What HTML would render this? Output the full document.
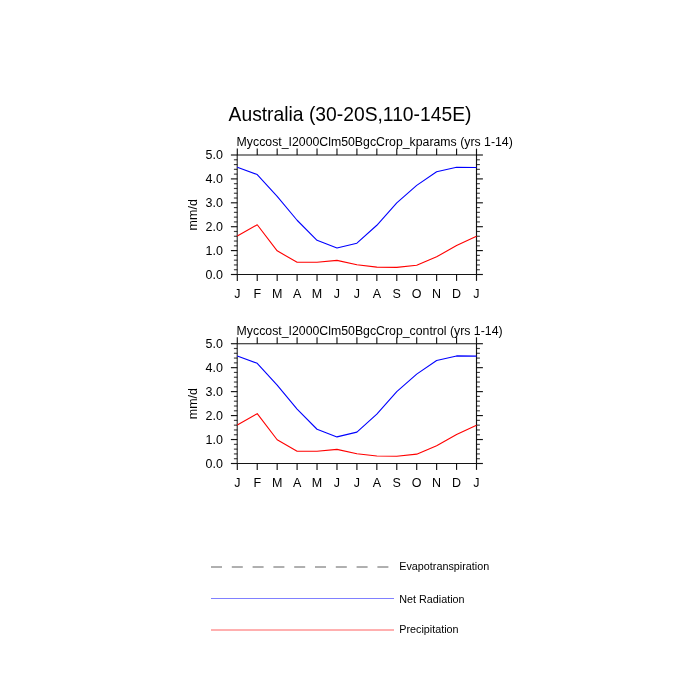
<!DOCTYPE html>
<html><head><meta charset="utf-8">
<style>
html,body{margin:0;padding:0;background:#fff;}
svg{display:block;will-change:transform;}
text{font-family:"Liberation Sans", sans-serif;fill:#000;}
</style></head><body>
<svg width="700" height="700" viewBox="0 0 700 700">
<rect width="700" height="700" fill="#fff"/>
<text x="350" y="120.7" text-anchor="middle" font-size="20.2" textLength="242.9" lengthAdjust="spacingAndGlyphs">Australia (30-20S,110-145E)</text>
<line x1="237.30" y1="155.00" x2="476.50" y2="155.00" stroke="#000" stroke-opacity="0.92" stroke-width="1.15"/>
<line x1="237.30" y1="274.50" x2="476.50" y2="274.50" stroke="#000" stroke-opacity="0.92" stroke-width="1.15"/>
<line x1="237.20" y1="155.00" x2="237.20" y2="274.50" stroke="#000" stroke-opacity="0.95" stroke-width="1.00"/>
<line x1="476.50" y1="155.00" x2="476.50" y2="274.50" stroke="#000" stroke-opacity="0.92" stroke-width="1.15"/>
<line x1="237.30" y1="148.60" x2="237.30" y2="155.00" stroke="#000" stroke-opacity="0.92" stroke-width="1.15"/>
<line x1="237.30" y1="274.50" x2="237.30" y2="280.90" stroke="#000" stroke-opacity="0.92" stroke-width="1.15"/>
<text transform="translate(237.30,297.60) scale(0.9550,1)" font-size="13.10" text-anchor="middle">J</text>
<line x1="257.23" y1="148.60" x2="257.23" y2="155.00" stroke="#000" stroke-opacity="0.92" stroke-width="1.15"/>
<line x1="257.23" y1="274.50" x2="257.23" y2="280.90" stroke="#000" stroke-opacity="0.92" stroke-width="1.15"/>
<text transform="translate(257.23,297.60) scale(0.9550,1)" font-size="13.10" text-anchor="middle">F</text>
<line x1="277.17" y1="148.60" x2="277.17" y2="155.00" stroke="#000" stroke-opacity="0.92" stroke-width="1.15"/>
<line x1="277.17" y1="274.50" x2="277.17" y2="280.90" stroke="#000" stroke-opacity="0.92" stroke-width="1.15"/>
<text transform="translate(277.17,297.60) scale(0.9550,1)" font-size="13.10" text-anchor="middle">M</text>
<line x1="297.10" y1="148.60" x2="297.10" y2="155.00" stroke="#000" stroke-opacity="0.92" stroke-width="1.15"/>
<line x1="297.10" y1="274.50" x2="297.10" y2="280.90" stroke="#000" stroke-opacity="0.92" stroke-width="1.15"/>
<text transform="translate(297.10,297.60) scale(0.9550,1)" font-size="13.10" text-anchor="middle">A</text>
<line x1="317.03" y1="148.60" x2="317.03" y2="155.00" stroke="#000" stroke-opacity="0.92" stroke-width="1.15"/>
<line x1="317.03" y1="274.50" x2="317.03" y2="280.90" stroke="#000" stroke-opacity="0.92" stroke-width="1.15"/>
<text transform="translate(317.03,297.60) scale(0.9550,1)" font-size="13.10" text-anchor="middle">M</text>
<line x1="336.97" y1="148.60" x2="336.97" y2="155.00" stroke="#000" stroke-opacity="0.92" stroke-width="1.15"/>
<line x1="336.97" y1="274.50" x2="336.97" y2="280.90" stroke="#000" stroke-opacity="0.92" stroke-width="1.15"/>
<text transform="translate(336.97,297.60) scale(0.9550,1)" font-size="13.10" text-anchor="middle">J</text>
<line x1="356.90" y1="148.60" x2="356.90" y2="155.00" stroke="#000" stroke-opacity="0.92" stroke-width="1.15"/>
<line x1="356.90" y1="274.50" x2="356.90" y2="280.90" stroke="#000" stroke-opacity="0.92" stroke-width="1.15"/>
<text transform="translate(356.90,297.60) scale(0.9550,1)" font-size="13.10" text-anchor="middle">J</text>
<line x1="376.83" y1="148.60" x2="376.83" y2="155.00" stroke="#000" stroke-opacity="0.92" stroke-width="1.15"/>
<line x1="376.83" y1="274.50" x2="376.83" y2="280.90" stroke="#000" stroke-opacity="0.92" stroke-width="1.15"/>
<text transform="translate(376.83,297.60) scale(0.9550,1)" font-size="13.10" text-anchor="middle">A</text>
<line x1="396.77" y1="148.60" x2="396.77" y2="155.00" stroke="#000" stroke-opacity="0.92" stroke-width="1.15"/>
<line x1="396.77" y1="274.50" x2="396.77" y2="280.90" stroke="#000" stroke-opacity="0.92" stroke-width="1.15"/>
<text transform="translate(396.77,297.60) scale(0.9550,1)" font-size="13.10" text-anchor="middle">S</text>
<line x1="416.70" y1="148.60" x2="416.70" y2="155.00" stroke="#000" stroke-opacity="0.92" stroke-width="1.15"/>
<line x1="416.70" y1="274.50" x2="416.70" y2="280.90" stroke="#000" stroke-opacity="0.92" stroke-width="1.15"/>
<text transform="translate(416.70,297.60) scale(0.9550,1)" font-size="13.10" text-anchor="middle">O</text>
<line x1="436.63" y1="148.60" x2="436.63" y2="155.00" stroke="#000" stroke-opacity="0.92" stroke-width="1.15"/>
<line x1="436.63" y1="274.50" x2="436.63" y2="280.90" stroke="#000" stroke-opacity="0.92" stroke-width="1.15"/>
<text transform="translate(436.63,297.60) scale(0.9550,1)" font-size="13.10" text-anchor="middle">N</text>
<line x1="456.57" y1="148.60" x2="456.57" y2="155.00" stroke="#000" stroke-opacity="0.92" stroke-width="1.15"/>
<line x1="456.57" y1="274.50" x2="456.57" y2="280.90" stroke="#000" stroke-opacity="0.92" stroke-width="1.15"/>
<text transform="translate(456.57,297.60) scale(0.9550,1)" font-size="13.10" text-anchor="middle">D</text>
<line x1="476.50" y1="148.60" x2="476.50" y2="155.00" stroke="#000" stroke-opacity="0.92" stroke-width="1.15"/>
<line x1="476.50" y1="274.50" x2="476.50" y2="280.90" stroke="#000" stroke-opacity="0.92" stroke-width="1.15"/>
<text transform="translate(476.50,297.60) scale(0.9550,1)" font-size="13.10" text-anchor="middle">J</text>
<line x1="230.90" y1="274.50" x2="237.30" y2="274.50" stroke="#000" stroke-opacity="0.92" stroke-width="1.15"/>
<line x1="476.50" y1="274.50" x2="482.90" y2="274.50" stroke="#000" stroke-opacity="0.92" stroke-width="1.15"/>
<text transform="translate(223.00,278.50) scale(0.9550,1)" font-size="13.10" text-anchor="end">0.0</text>
<line x1="233.90" y1="269.72" x2="237.30" y2="269.72" stroke="#000" stroke-opacity="0.75" stroke-width="1.15"/>
<line x1="476.50" y1="269.72" x2="479.90" y2="269.72" stroke="#000" stroke-opacity="0.75" stroke-width="1.15"/>
<line x1="233.90" y1="264.94" x2="237.30" y2="264.94" stroke="#000" stroke-opacity="0.75" stroke-width="1.15"/>
<line x1="476.50" y1="264.94" x2="479.90" y2="264.94" stroke="#000" stroke-opacity="0.75" stroke-width="1.15"/>
<line x1="233.90" y1="260.16" x2="237.30" y2="260.16" stroke="#000" stroke-opacity="0.75" stroke-width="1.15"/>
<line x1="476.50" y1="260.16" x2="479.90" y2="260.16" stroke="#000" stroke-opacity="0.75" stroke-width="1.15"/>
<line x1="233.90" y1="255.38" x2="237.30" y2="255.38" stroke="#000" stroke-opacity="0.75" stroke-width="1.15"/>
<line x1="476.50" y1="255.38" x2="479.90" y2="255.38" stroke="#000" stroke-opacity="0.75" stroke-width="1.15"/>
<line x1="230.90" y1="250.60" x2="237.30" y2="250.60" stroke="#000" stroke-opacity="0.92" stroke-width="1.15"/>
<line x1="476.50" y1="250.60" x2="482.90" y2="250.60" stroke="#000" stroke-opacity="0.92" stroke-width="1.15"/>
<text transform="translate(223.00,254.60) scale(0.9550,1)" font-size="13.10" text-anchor="end">1.0</text>
<line x1="233.90" y1="245.82" x2="237.30" y2="245.82" stroke="#000" stroke-opacity="0.75" stroke-width="1.15"/>
<line x1="476.50" y1="245.82" x2="479.90" y2="245.82" stroke="#000" stroke-opacity="0.75" stroke-width="1.15"/>
<line x1="233.90" y1="241.04" x2="237.30" y2="241.04" stroke="#000" stroke-opacity="0.75" stroke-width="1.15"/>
<line x1="476.50" y1="241.04" x2="479.90" y2="241.04" stroke="#000" stroke-opacity="0.75" stroke-width="1.15"/>
<line x1="233.90" y1="236.26" x2="237.30" y2="236.26" stroke="#000" stroke-opacity="0.75" stroke-width="1.15"/>
<line x1="476.50" y1="236.26" x2="479.90" y2="236.26" stroke="#000" stroke-opacity="0.75" stroke-width="1.15"/>
<line x1="233.90" y1="231.48" x2="237.30" y2="231.48" stroke="#000" stroke-opacity="0.75" stroke-width="1.15"/>
<line x1="476.50" y1="231.48" x2="479.90" y2="231.48" stroke="#000" stroke-opacity="0.75" stroke-width="1.15"/>
<line x1="230.90" y1="226.70" x2="237.30" y2="226.70" stroke="#000" stroke-opacity="0.92" stroke-width="1.15"/>
<line x1="476.50" y1="226.70" x2="482.90" y2="226.70" stroke="#000" stroke-opacity="0.92" stroke-width="1.15"/>
<text transform="translate(223.00,230.70) scale(0.9550,1)" font-size="13.10" text-anchor="end">2.0</text>
<line x1="233.90" y1="221.92" x2="237.30" y2="221.92" stroke="#000" stroke-opacity="0.75" stroke-width="1.15"/>
<line x1="476.50" y1="221.92" x2="479.90" y2="221.92" stroke="#000" stroke-opacity="0.75" stroke-width="1.15"/>
<line x1="233.90" y1="217.14" x2="237.30" y2="217.14" stroke="#000" stroke-opacity="0.75" stroke-width="1.15"/>
<line x1="476.50" y1="217.14" x2="479.90" y2="217.14" stroke="#000" stroke-opacity="0.75" stroke-width="1.15"/>
<line x1="233.90" y1="212.36" x2="237.30" y2="212.36" stroke="#000" stroke-opacity="0.75" stroke-width="1.15"/>
<line x1="476.50" y1="212.36" x2="479.90" y2="212.36" stroke="#000" stroke-opacity="0.75" stroke-width="1.15"/>
<line x1="233.90" y1="207.58" x2="237.30" y2="207.58" stroke="#000" stroke-opacity="0.75" stroke-width="1.15"/>
<line x1="476.50" y1="207.58" x2="479.90" y2="207.58" stroke="#000" stroke-opacity="0.75" stroke-width="1.15"/>
<line x1="230.90" y1="202.80" x2="237.30" y2="202.80" stroke="#000" stroke-opacity="0.92" stroke-width="1.15"/>
<line x1="476.50" y1="202.80" x2="482.90" y2="202.80" stroke="#000" stroke-opacity="0.92" stroke-width="1.15"/>
<text transform="translate(223.00,206.80) scale(0.9550,1)" font-size="13.10" text-anchor="end">3.0</text>
<line x1="233.90" y1="198.02" x2="237.30" y2="198.02" stroke="#000" stroke-opacity="0.75" stroke-width="1.15"/>
<line x1="476.50" y1="198.02" x2="479.90" y2="198.02" stroke="#000" stroke-opacity="0.75" stroke-width="1.15"/>
<line x1="233.90" y1="193.24" x2="237.30" y2="193.24" stroke="#000" stroke-opacity="0.75" stroke-width="1.15"/>
<line x1="476.50" y1="193.24" x2="479.90" y2="193.24" stroke="#000" stroke-opacity="0.75" stroke-width="1.15"/>
<line x1="233.90" y1="188.46" x2="237.30" y2="188.46" stroke="#000" stroke-opacity="0.75" stroke-width="1.15"/>
<line x1="476.50" y1="188.46" x2="479.90" y2="188.46" stroke="#000" stroke-opacity="0.75" stroke-width="1.15"/>
<line x1="233.90" y1="183.68" x2="237.30" y2="183.68" stroke="#000" stroke-opacity="0.75" stroke-width="1.15"/>
<line x1="476.50" y1="183.68" x2="479.90" y2="183.68" stroke="#000" stroke-opacity="0.75" stroke-width="1.15"/>
<line x1="230.90" y1="178.90" x2="237.30" y2="178.90" stroke="#000" stroke-opacity="0.92" stroke-width="1.15"/>
<line x1="476.50" y1="178.90" x2="482.90" y2="178.90" stroke="#000" stroke-opacity="0.92" stroke-width="1.15"/>
<text transform="translate(223.00,182.90) scale(0.9550,1)" font-size="13.10" text-anchor="end">4.0</text>
<line x1="233.90" y1="174.12" x2="237.30" y2="174.12" stroke="#000" stroke-opacity="0.75" stroke-width="1.15"/>
<line x1="476.50" y1="174.12" x2="479.90" y2="174.12" stroke="#000" stroke-opacity="0.75" stroke-width="1.15"/>
<line x1="233.90" y1="169.34" x2="237.30" y2="169.34" stroke="#000" stroke-opacity="0.75" stroke-width="1.15"/>
<line x1="476.50" y1="169.34" x2="479.90" y2="169.34" stroke="#000" stroke-opacity="0.75" stroke-width="1.15"/>
<line x1="233.90" y1="164.56" x2="237.30" y2="164.56" stroke="#000" stroke-opacity="0.75" stroke-width="1.15"/>
<line x1="476.50" y1="164.56" x2="479.90" y2="164.56" stroke="#000" stroke-opacity="0.75" stroke-width="1.15"/>
<line x1="233.90" y1="159.78" x2="237.30" y2="159.78" stroke="#000" stroke-opacity="0.75" stroke-width="1.15"/>
<line x1="476.50" y1="159.78" x2="479.90" y2="159.78" stroke="#000" stroke-opacity="0.75" stroke-width="1.15"/>
<line x1="230.90" y1="155.00" x2="237.30" y2="155.00" stroke="#000" stroke-opacity="0.92" stroke-width="1.15"/>
<line x1="476.50" y1="155.00" x2="482.90" y2="155.00" stroke="#000" stroke-opacity="0.92" stroke-width="1.15"/>
<text transform="translate(223.00,159.00) scale(0.9550,1)" font-size="13.10" text-anchor="end">5.0</text>
<polyline points="237.30,167.19 257.23,174.60 277.17,196.35 297.10,220.25 317.03,240.32 336.97,247.97 356.90,243.19 376.83,225.27 396.77,202.80 416.70,185.35 436.63,171.73 456.57,167.19 476.50,167.43" fill="none" stroke="#0000ff" stroke-width="1.1" stroke-linejoin="round"/>
<polyline points="237.30,236.02 257.23,224.79 277.17,250.84 297.10,262.31 317.03,262.31 336.97,260.40 356.90,264.70 376.83,267.09 396.77,267.33 416.70,265.18 436.63,256.81 456.57,245.58 476.50,236.26" fill="none" stroke="#ff0000" stroke-width="1.1" stroke-linejoin="round"/>
<text transform="translate(197.20,214.75) rotate(-90) scale(0.9550,1)" text-anchor="middle" font-size="13.10">mm/d</text>
<text x="236.6" y="146.00" font-size="12.5" textLength="276.20" lengthAdjust="spacingAndGlyphs">Myccost_I2000Clm50BgcCrop_kparams (yrs 1-14)</text>
<line x1="237.30" y1="343.70" x2="476.50" y2="343.70" stroke="#000" stroke-opacity="0.92" stroke-width="1.15"/>
<line x1="237.30" y1="463.50" x2="476.50" y2="463.50" stroke="#000" stroke-opacity="0.92" stroke-width="1.15"/>
<line x1="237.20" y1="343.70" x2="237.20" y2="463.50" stroke="#000" stroke-opacity="0.95" stroke-width="1.00"/>
<line x1="476.50" y1="343.70" x2="476.50" y2="463.50" stroke="#000" stroke-opacity="0.92" stroke-width="1.15"/>
<line x1="237.30" y1="337.30" x2="237.30" y2="343.70" stroke="#000" stroke-opacity="0.92" stroke-width="1.15"/>
<line x1="237.30" y1="463.50" x2="237.30" y2="469.90" stroke="#000" stroke-opacity="0.92" stroke-width="1.15"/>
<text transform="translate(237.30,486.60) scale(0.9550,1)" font-size="13.10" text-anchor="middle">J</text>
<line x1="257.23" y1="337.30" x2="257.23" y2="343.70" stroke="#000" stroke-opacity="0.92" stroke-width="1.15"/>
<line x1="257.23" y1="463.50" x2="257.23" y2="469.90" stroke="#000" stroke-opacity="0.92" stroke-width="1.15"/>
<text transform="translate(257.23,486.60) scale(0.9550,1)" font-size="13.10" text-anchor="middle">F</text>
<line x1="277.17" y1="337.30" x2="277.17" y2="343.70" stroke="#000" stroke-opacity="0.92" stroke-width="1.15"/>
<line x1="277.17" y1="463.50" x2="277.17" y2="469.90" stroke="#000" stroke-opacity="0.92" stroke-width="1.15"/>
<text transform="translate(277.17,486.60) scale(0.9550,1)" font-size="13.10" text-anchor="middle">M</text>
<line x1="297.10" y1="337.30" x2="297.10" y2="343.70" stroke="#000" stroke-opacity="0.92" stroke-width="1.15"/>
<line x1="297.10" y1="463.50" x2="297.10" y2="469.90" stroke="#000" stroke-opacity="0.92" stroke-width="1.15"/>
<text transform="translate(297.10,486.60) scale(0.9550,1)" font-size="13.10" text-anchor="middle">A</text>
<line x1="317.03" y1="337.30" x2="317.03" y2="343.70" stroke="#000" stroke-opacity="0.92" stroke-width="1.15"/>
<line x1="317.03" y1="463.50" x2="317.03" y2="469.90" stroke="#000" stroke-opacity="0.92" stroke-width="1.15"/>
<text transform="translate(317.03,486.60) scale(0.9550,1)" font-size="13.10" text-anchor="middle">M</text>
<line x1="336.97" y1="337.30" x2="336.97" y2="343.70" stroke="#000" stroke-opacity="0.92" stroke-width="1.15"/>
<line x1="336.97" y1="463.50" x2="336.97" y2="469.90" stroke="#000" stroke-opacity="0.92" stroke-width="1.15"/>
<text transform="translate(336.97,486.60) scale(0.9550,1)" font-size="13.10" text-anchor="middle">J</text>
<line x1="356.90" y1="337.30" x2="356.90" y2="343.70" stroke="#000" stroke-opacity="0.92" stroke-width="1.15"/>
<line x1="356.90" y1="463.50" x2="356.90" y2="469.90" stroke="#000" stroke-opacity="0.92" stroke-width="1.15"/>
<text transform="translate(356.90,486.60) scale(0.9550,1)" font-size="13.10" text-anchor="middle">J</text>
<line x1="376.83" y1="337.30" x2="376.83" y2="343.70" stroke="#000" stroke-opacity="0.92" stroke-width="1.15"/>
<line x1="376.83" y1="463.50" x2="376.83" y2="469.90" stroke="#000" stroke-opacity="0.92" stroke-width="1.15"/>
<text transform="translate(376.83,486.60) scale(0.9550,1)" font-size="13.10" text-anchor="middle">A</text>
<line x1="396.77" y1="337.30" x2="396.77" y2="343.70" stroke="#000" stroke-opacity="0.92" stroke-width="1.15"/>
<line x1="396.77" y1="463.50" x2="396.77" y2="469.90" stroke="#000" stroke-opacity="0.92" stroke-width="1.15"/>
<text transform="translate(396.77,486.60) scale(0.9550,1)" font-size="13.10" text-anchor="middle">S</text>
<line x1="416.70" y1="337.30" x2="416.70" y2="343.70" stroke="#000" stroke-opacity="0.92" stroke-width="1.15"/>
<line x1="416.70" y1="463.50" x2="416.70" y2="469.90" stroke="#000" stroke-opacity="0.92" stroke-width="1.15"/>
<text transform="translate(416.70,486.60) scale(0.9550,1)" font-size="13.10" text-anchor="middle">O</text>
<line x1="436.63" y1="337.30" x2="436.63" y2="343.70" stroke="#000" stroke-opacity="0.92" stroke-width="1.15"/>
<line x1="436.63" y1="463.50" x2="436.63" y2="469.90" stroke="#000" stroke-opacity="0.92" stroke-width="1.15"/>
<text transform="translate(436.63,486.60) scale(0.9550,1)" font-size="13.10" text-anchor="middle">N</text>
<line x1="456.57" y1="337.30" x2="456.57" y2="343.70" stroke="#000" stroke-opacity="0.92" stroke-width="1.15"/>
<line x1="456.57" y1="463.50" x2="456.57" y2="469.90" stroke="#000" stroke-opacity="0.92" stroke-width="1.15"/>
<text transform="translate(456.57,486.60) scale(0.9550,1)" font-size="13.10" text-anchor="middle">D</text>
<line x1="476.50" y1="337.30" x2="476.50" y2="343.70" stroke="#000" stroke-opacity="0.92" stroke-width="1.15"/>
<line x1="476.50" y1="463.50" x2="476.50" y2="469.90" stroke="#000" stroke-opacity="0.92" stroke-width="1.15"/>
<text transform="translate(476.50,486.60) scale(0.9550,1)" font-size="13.10" text-anchor="middle">J</text>
<line x1="230.90" y1="463.50" x2="237.30" y2="463.50" stroke="#000" stroke-opacity="0.92" stroke-width="1.15"/>
<line x1="476.50" y1="463.50" x2="482.90" y2="463.50" stroke="#000" stroke-opacity="0.92" stroke-width="1.15"/>
<text transform="translate(223.00,467.50) scale(0.9550,1)" font-size="13.10" text-anchor="end">0.0</text>
<line x1="233.90" y1="458.71" x2="237.30" y2="458.71" stroke="#000" stroke-opacity="0.75" stroke-width="1.15"/>
<line x1="476.50" y1="458.71" x2="479.90" y2="458.71" stroke="#000" stroke-opacity="0.75" stroke-width="1.15"/>
<line x1="233.90" y1="453.92" x2="237.30" y2="453.92" stroke="#000" stroke-opacity="0.75" stroke-width="1.15"/>
<line x1="476.50" y1="453.92" x2="479.90" y2="453.92" stroke="#000" stroke-opacity="0.75" stroke-width="1.15"/>
<line x1="233.90" y1="449.12" x2="237.30" y2="449.12" stroke="#000" stroke-opacity="0.75" stroke-width="1.15"/>
<line x1="476.50" y1="449.12" x2="479.90" y2="449.12" stroke="#000" stroke-opacity="0.75" stroke-width="1.15"/>
<line x1="233.90" y1="444.33" x2="237.30" y2="444.33" stroke="#000" stroke-opacity="0.75" stroke-width="1.15"/>
<line x1="476.50" y1="444.33" x2="479.90" y2="444.33" stroke="#000" stroke-opacity="0.75" stroke-width="1.15"/>
<line x1="230.90" y1="439.54" x2="237.30" y2="439.54" stroke="#000" stroke-opacity="0.92" stroke-width="1.15"/>
<line x1="476.50" y1="439.54" x2="482.90" y2="439.54" stroke="#000" stroke-opacity="0.92" stroke-width="1.15"/>
<text transform="translate(223.00,443.54) scale(0.9550,1)" font-size="13.10" text-anchor="end">1.0</text>
<line x1="233.90" y1="434.75" x2="237.30" y2="434.75" stroke="#000" stroke-opacity="0.75" stroke-width="1.15"/>
<line x1="476.50" y1="434.75" x2="479.90" y2="434.75" stroke="#000" stroke-opacity="0.75" stroke-width="1.15"/>
<line x1="233.90" y1="429.96" x2="237.30" y2="429.96" stroke="#000" stroke-opacity="0.75" stroke-width="1.15"/>
<line x1="476.50" y1="429.96" x2="479.90" y2="429.96" stroke="#000" stroke-opacity="0.75" stroke-width="1.15"/>
<line x1="233.90" y1="425.16" x2="237.30" y2="425.16" stroke="#000" stroke-opacity="0.75" stroke-width="1.15"/>
<line x1="476.50" y1="425.16" x2="479.90" y2="425.16" stroke="#000" stroke-opacity="0.75" stroke-width="1.15"/>
<line x1="233.90" y1="420.37" x2="237.30" y2="420.37" stroke="#000" stroke-opacity="0.75" stroke-width="1.15"/>
<line x1="476.50" y1="420.37" x2="479.90" y2="420.37" stroke="#000" stroke-opacity="0.75" stroke-width="1.15"/>
<line x1="230.90" y1="415.58" x2="237.30" y2="415.58" stroke="#000" stroke-opacity="0.92" stroke-width="1.15"/>
<line x1="476.50" y1="415.58" x2="482.90" y2="415.58" stroke="#000" stroke-opacity="0.92" stroke-width="1.15"/>
<text transform="translate(223.00,419.58) scale(0.9550,1)" font-size="13.10" text-anchor="end">2.0</text>
<line x1="233.90" y1="410.79" x2="237.30" y2="410.79" stroke="#000" stroke-opacity="0.75" stroke-width="1.15"/>
<line x1="476.50" y1="410.79" x2="479.90" y2="410.79" stroke="#000" stroke-opacity="0.75" stroke-width="1.15"/>
<line x1="233.90" y1="406.00" x2="237.30" y2="406.00" stroke="#000" stroke-opacity="0.75" stroke-width="1.15"/>
<line x1="476.50" y1="406.00" x2="479.90" y2="406.00" stroke="#000" stroke-opacity="0.75" stroke-width="1.15"/>
<line x1="233.90" y1="401.20" x2="237.30" y2="401.20" stroke="#000" stroke-opacity="0.75" stroke-width="1.15"/>
<line x1="476.50" y1="401.20" x2="479.90" y2="401.20" stroke="#000" stroke-opacity="0.75" stroke-width="1.15"/>
<line x1="233.90" y1="396.41" x2="237.30" y2="396.41" stroke="#000" stroke-opacity="0.75" stroke-width="1.15"/>
<line x1="476.50" y1="396.41" x2="479.90" y2="396.41" stroke="#000" stroke-opacity="0.75" stroke-width="1.15"/>
<line x1="230.90" y1="391.62" x2="237.30" y2="391.62" stroke="#000" stroke-opacity="0.92" stroke-width="1.15"/>
<line x1="476.50" y1="391.62" x2="482.90" y2="391.62" stroke="#000" stroke-opacity="0.92" stroke-width="1.15"/>
<text transform="translate(223.00,395.62) scale(0.9550,1)" font-size="13.10" text-anchor="end">3.0</text>
<line x1="233.90" y1="386.83" x2="237.30" y2="386.83" stroke="#000" stroke-opacity="0.75" stroke-width="1.15"/>
<line x1="476.50" y1="386.83" x2="479.90" y2="386.83" stroke="#000" stroke-opacity="0.75" stroke-width="1.15"/>
<line x1="233.90" y1="382.04" x2="237.30" y2="382.04" stroke="#000" stroke-opacity="0.75" stroke-width="1.15"/>
<line x1="476.50" y1="382.04" x2="479.90" y2="382.04" stroke="#000" stroke-opacity="0.75" stroke-width="1.15"/>
<line x1="233.90" y1="377.24" x2="237.30" y2="377.24" stroke="#000" stroke-opacity="0.75" stroke-width="1.15"/>
<line x1="476.50" y1="377.24" x2="479.90" y2="377.24" stroke="#000" stroke-opacity="0.75" stroke-width="1.15"/>
<line x1="233.90" y1="372.45" x2="237.30" y2="372.45" stroke="#000" stroke-opacity="0.75" stroke-width="1.15"/>
<line x1="476.50" y1="372.45" x2="479.90" y2="372.45" stroke="#000" stroke-opacity="0.75" stroke-width="1.15"/>
<line x1="230.90" y1="367.66" x2="237.30" y2="367.66" stroke="#000" stroke-opacity="0.92" stroke-width="1.15"/>
<line x1="476.50" y1="367.66" x2="482.90" y2="367.66" stroke="#000" stroke-opacity="0.92" stroke-width="1.15"/>
<text transform="translate(223.00,371.66) scale(0.9550,1)" font-size="13.10" text-anchor="end">4.0</text>
<line x1="233.90" y1="362.87" x2="237.30" y2="362.87" stroke="#000" stroke-opacity="0.75" stroke-width="1.15"/>
<line x1="476.50" y1="362.87" x2="479.90" y2="362.87" stroke="#000" stroke-opacity="0.75" stroke-width="1.15"/>
<line x1="233.90" y1="358.08" x2="237.30" y2="358.08" stroke="#000" stroke-opacity="0.75" stroke-width="1.15"/>
<line x1="476.50" y1="358.08" x2="479.90" y2="358.08" stroke="#000" stroke-opacity="0.75" stroke-width="1.15"/>
<line x1="233.90" y1="353.28" x2="237.30" y2="353.28" stroke="#000" stroke-opacity="0.75" stroke-width="1.15"/>
<line x1="476.50" y1="353.28" x2="479.90" y2="353.28" stroke="#000" stroke-opacity="0.75" stroke-width="1.15"/>
<line x1="233.90" y1="348.49" x2="237.30" y2="348.49" stroke="#000" stroke-opacity="0.75" stroke-width="1.15"/>
<line x1="476.50" y1="348.49" x2="479.90" y2="348.49" stroke="#000" stroke-opacity="0.75" stroke-width="1.15"/>
<line x1="230.90" y1="343.70" x2="237.30" y2="343.70" stroke="#000" stroke-opacity="0.92" stroke-width="1.15"/>
<line x1="476.50" y1="343.70" x2="482.90" y2="343.70" stroke="#000" stroke-opacity="0.92" stroke-width="1.15"/>
<text transform="translate(223.00,347.70) scale(0.9550,1)" font-size="13.10" text-anchor="end">5.0</text>
<polyline points="237.30,355.92 257.23,363.35 277.17,385.15 297.10,409.11 317.03,429.24 336.97,436.90 356.90,432.11 376.83,414.14 396.77,391.62 416.70,374.13 436.63,360.47 456.57,355.92 476.50,356.16" fill="none" stroke="#0000ff" stroke-width="1.1" stroke-linejoin="round"/>
<polyline points="237.30,424.92 257.23,413.66 277.17,439.78 297.10,451.28 317.03,451.28 336.97,449.36 356.90,453.68 376.83,456.07 396.77,456.31 416.70,454.16 436.63,445.77 456.57,434.51 476.50,425.16" fill="none" stroke="#ff0000" stroke-width="1.1" stroke-linejoin="round"/>
<text transform="translate(197.20,403.60) rotate(-90) scale(0.9550,1)" text-anchor="middle" font-size="13.10">mm/d</text>
<text x="236.6" y="334.90" font-size="12.5" textLength="266.00" lengthAdjust="spacingAndGlyphs">Myccost_I2000Clm50BgcCrop_control (yrs 1-14)</text>
<line x1="211.00" y1="567.00" x2="389.00" y2="567.00" stroke="#606060" stroke-opacity="1.00" stroke-width="1.00" stroke-dasharray="11 9.8"/>
<text transform="translate(399.30,570.00) scale(0.9900,1)" font-size="10.90" text-anchor="start">Evapotranspiration</text>
<line x1="211.00" y1="598.50" x2="394.00" y2="598.50" stroke="#8080ff" stroke-opacity="1.00" stroke-width="1.00"/>
<text transform="translate(399.30,602.70) scale(0.9900,1)" font-size="10.90" text-anchor="start">Net Radiation</text>
<line x1="211.00" y1="630.00" x2="394.00" y2="630.00" stroke="#ff6060" stroke-opacity="1.00" stroke-width="1.00"/>
<text transform="translate(399.30,633.00) scale(0.9900,1)" font-size="10.90" text-anchor="start">Precipitation</text>
</svg>
</body></html>
